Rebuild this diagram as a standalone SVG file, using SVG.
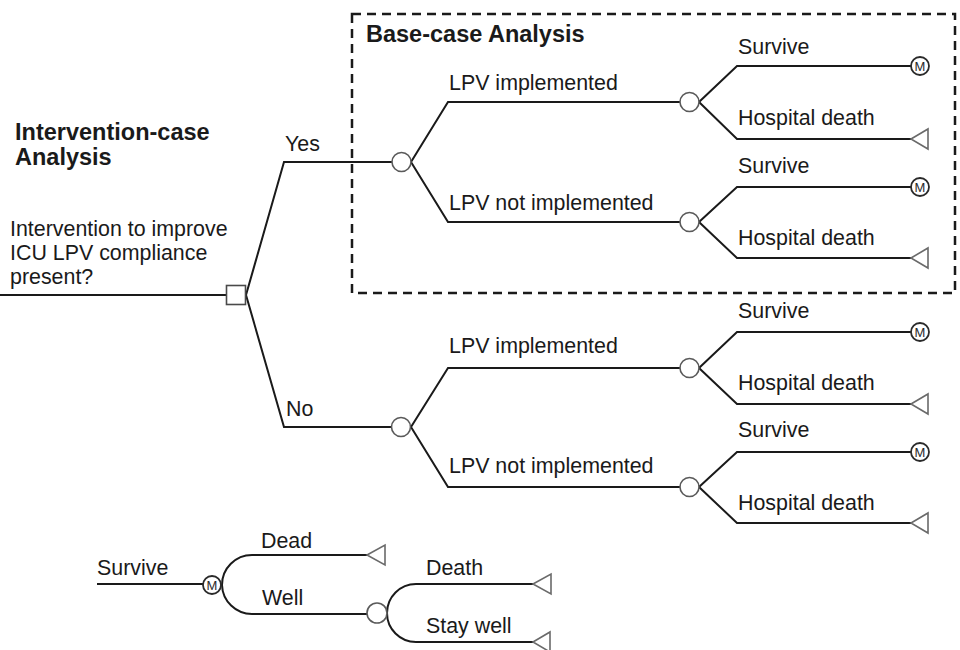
<svg xmlns="http://www.w3.org/2000/svg" width="960" height="650" viewBox="0 0 960 650">
<defs>
<style>
.bg{fill:#ffffff}
.ln{fill:none;stroke:#1a1a1a;stroke-width:2}
.ch{fill:#ffffff;stroke:#5a5a5a;stroke-width:1.6}
.dc{fill:#ffffff;stroke:#4a4a4a;stroke-width:1.6}
.mk{fill:#ffffff;stroke:#2a2a2a;stroke-width:1.8}
.mt{font-family:"Liberation Sans",Arial,sans-serif;font-size:13px;fill:#2a2a2a;text-anchor:middle}
.tm{fill:#ffffff;stroke:#6a6a6a;stroke-width:1.6}
.t{font-family:"Liberation Sans",Arial,sans-serif;font-size:21.4px;fill:#1a1a1a}
.b{font-family:"Liberation Sans",Arial,sans-serif;font-size:23.5px;font-weight:bold;fill:#1a1a1a}
.dash{fill:none;stroke:#1a1a1a;stroke-width:2.5;stroke-dasharray:9 6}
</style>
</defs>
<rect class="bg" x="0" y="0" width="960" height="650"/>

<g id="base-case-box">
<rect class="dash" x="352" y="14" width="603" height="279"/>
<text class="b" x="366" y="42">Base-case Analysis</text>
</g>

<g id="titles">
<text class="b" x="15" y="140">Intervention-case</text>
<text class="b" x="15" y="165">Analysis</text>
<text class="t" x="10" y="236">Intervention to improve</text>
<text class="t" x="10" y="260">ICU LPV compliance</text>
<text class="t" x="10" y="284">present?</text>
</g>

<g id="connectors">
<path class="ln" d="M0 295 H226"/>
<path class="ln" d="M246 295 L284 162 H392"/>
<path class="ln" d="M246 295 L284 427 H391"/>
<!-- Yes chance -->
<path class="ln" d="M411 162 L448 102 H680"/>
<path class="ln" d="M411 162 L448 222 H680"/>
<!-- No chance -->
<path class="ln" d="M411 427 L448 368 H680"/>
<path class="ln" d="M411 427 L448 487 H680"/>
<!-- C1 -->
<path class="ln" d="M699 102 L737 66 H911"/>
<path class="ln" d="M699 102 L737 139 H911"/>
<!-- C2 -->
<path class="ln" d="M699 222 L737 187 H911"/>
<path class="ln" d="M699 222 L737 258 H911"/>
<!-- C3 -->
<path class="ln" d="M699 368 L737 332 H911"/>
<path class="ln" d="M699 368 L737 404 H911"/>
<!-- C4 -->
<path class="ln" d="M699 487 L737 452 H911"/>
<path class="ln" d="M699 487 L737 523 H911"/>
<!-- bottom markov subtree -->
<path class="ln" d="M97 584 H203"/>
<path class="ln" d="M367 555 H252 A30 30 0 0 0 222 585 A30 30 0 0 0 252 614 H367"/>
<path class="ln" d="M533 584 H416 A29 29 0 0 0 387 613 A29 29 0 0 0 416 642 H533"/>
</g>

<g id="labels">
<text class="t" x="285" y="151">Yes</text>
<text class="t" x="286" y="416">No</text>
<text class="t" x="449" y="90">LPV implemented</text>
<text class="t" x="449" y="210">LPV not implemented</text>
<text class="t" x="449" y="353">LPV implemented</text>
<text class="t" x="449" y="473">LPV not implemented</text>
<text class="t" x="738" y="54">Survive</text>
<text class="t" x="738" y="125">Hospital death</text>
<text class="t" x="738" y="173">Survive</text>
<text class="t" x="738" y="245">Hospital death</text>
<text class="t" x="738" y="318">Survive</text>
<text class="t" x="738" y="390">Hospital death</text>
<text class="t" x="738" y="437">Survive</text>
<text class="t" x="738" y="510">Hospital death</text>
<text class="t" x="97" y="575">Survive</text>
<text class="t" x="261" y="548">Dead</text>
<text class="t" x="262" y="605">Well</text>
<text class="t" x="426" y="575">Death</text>
<text class="t" x="426" y="633">Stay well</text>
</g>

<g id="decision"><rect class="dc" x="226.5" y="285.5" width="19" height="19"/></g>
<g id="chance-yes"><circle class="ch" cx="401.5" cy="162" r="9.5"/></g>
<g id="chance-no"><circle class="ch" cx="401" cy="427" r="9.5"/></g>
<g id="chance-c1"><circle class="ch" cx="689.5" cy="102" r="9.5"/></g>
<g id="chance-c2"><circle class="ch" cx="689.5" cy="222" r="9.5"/></g>
<g id="chance-c3"><circle class="ch" cx="689.5" cy="368" r="9.5"/></g>
<g id="chance-c4"><circle class="ch" cx="689.5" cy="487" r="9.5"/></g>

<g id="markov-c1"><circle class="mk" cx="920" cy="66" r="9"/><text class="mt" x="920" y="70.5">M</text></g>
<g id="markov-c2"><circle class="mk" cx="920" cy="187" r="9"/><text class="mt" x="920" y="191.5">M</text></g>
<g id="markov-c3"><circle class="mk" cx="920" cy="332" r="9"/><text class="mt" x="920" y="336.5">M</text></g>
<g id="markov-c4"><circle class="mk" cx="920" cy="452" r="9"/><text class="mt" x="920" y="456.5">M</text></g>
<g id="markov-bottom"><circle class="mk" cx="212" cy="585" r="9"/><text class="mt" x="212" y="589.5">M</text></g>

<g id="term-c1"><polygon class="tm" points="911,139 928,129 928,149"/></g>
<g id="term-c2"><polygon class="tm" points="911,258 928,248 928,268"/></g>
<g id="term-c3"><polygon class="tm" points="911,404 928,394 928,414"/></g>
<g id="term-c4"><polygon class="tm" points="911,523 928,513 928,533"/></g>

<g id="chance-well"><circle class="ch" cx="377" cy="613" r="10"/></g>
<g id="term-dead"><polygon class="tm" points="367,555 385,545 385,565"/></g>
<g id="term-death"><polygon class="tm" points="533,584 551,574 551,594"/></g>
<g id="term-staywell"><polygon class="tm" points="533,642 550,632 550,652"/></g>
</svg>
